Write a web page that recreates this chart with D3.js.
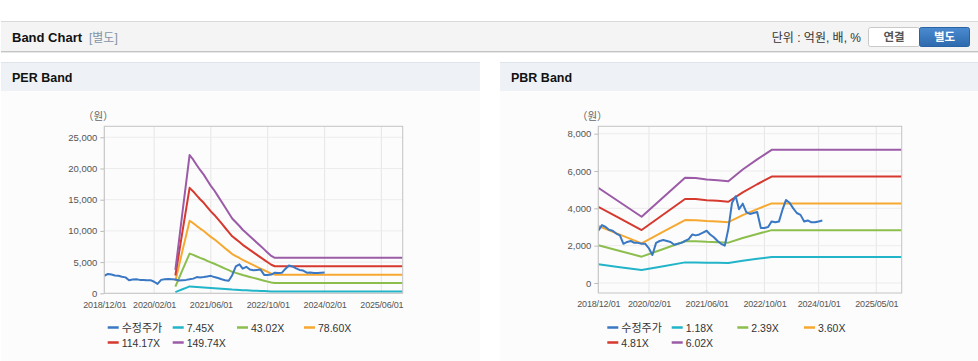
<!DOCTYPE html>
<html><head><meta charset="utf-8">
<script src="https://cdn.jsdelivr.net/npm/d3@7"></script>
<style>
body{margin:0;background:#fff;}
svg text{font-family:Arial,"Liberation Sans","Noto Sans CJK KR",sans-serif;}
</style></head><body>
<svg id="c" width="978" height="361"></svg>
<script>
// ---------- DATA ----------
const priceDates = ["2018-12","2019-01","2019-02","2019-03","2019-04","2019-05","2019-06","2019-07","2019-08","2019-09","2019-10","2019-11",
"2019-12","2020-01","2020-02","2020-03","2020-04","2020-05","2020-06","2020-07","2020-08","2020-09","2020-10","2020-11",
"2020-12","2021-01","2021-02","2021-03","2021-04","2021-05","2021-06","2021-07","2021-08","2021-09","2021-10","2021-11",
"2021-12","2022-01","2022-02","2022-03","2022-04","2022-05","2022-06","2022-07","2022-08","2022-09","2022-10","2022-11",
"2022-12","2023-01","2023-02","2023-03","2023-04","2023-05","2023-06","2023-07","2023-08","2023-09","2023-10","2023-11",
"2023-12","2024-01","2024-02"];
const priceValues = [2800,3100,3000,2850,2800,2650,2550,2100,2200,2250,2150,2150,
2100,2100,1850,1500,2150,2250,2300,2250,2200,2050,2100,2150,
2250,2350,2600,2550,2600,2700,2800,2600,2450,2250,2100,2000,
2900,4300,4650,3950,4250,3800,3700,3750,3800,2950,2950,3000,
3300,3250,3300,3900,4450,4300,4000,3750,3650,3300,3350,3250,
3250,3300,3350];

const perBaseDates = ["2020-08","2020-09","2020-10","2020-11","2020-12","2021-01","2021-02","2021-03","2021-04","2021-05","2021-06","2021-07",
"2021-08","2021-09","2021-10","2021-11","2021-12","2022-01","2022-02","2022-03","2022-04","2022-05","2022-06","2022-07",
"2022-08","2022-09","2022-10","2022-11","2022-12","2025-12"];
const perEPS = [25,56,87,118,148,143,137,132,127,121,115,110,
104,98,92,86,80,76,72,68,64.5,61,57.5,54,
50.5,47,43.5,40,38,38];
const perMultiples = [7.45,43.02,78.60,114.17,149.74];
const perLabels = ["수정주가","7.45X","43.02X","78.60X","114.17X","149.74X"];
const perXTicks = ["2018-12-01","2020-02-01","2021-06-01","2022-10-01","2024-02-01","2025-06-01"];
const perYTicks = [0,5000,10000,15000,20000,25000];

const pbrBaseDates = ["2018-12","2019-06","2019-12","2020-06","2020-12","2021-03","2021-06","2021-09","2021-12","2022-04","2022-08","2022-12","2025-12"];
const pbrBPS = [848,719,590,763,936,935,922,915,905,1010,1100,1185,1185];
const pbrMultiples = [1.18,2.39,3.60,4.81,6.02];
const pbrLabels = ["수정주가","1.18X","2.39X","3.60X","4.81X","6.02X"];
const pbrXTicks = ["2018-12-01","2020-02-01","2021-06-01","2022-10-01","2024-01-01","2025-05-01"];
const pbrYTicks = [0,2000,4000,6000,8000];

const xDomain = ["2018-12-01","2025-12-01"];
const colors = ["#3a78c4","#22b4c8","#8cbe4e","#f6a831","#d6392e","#9b5ba7"];

// ---------- DRAW ----------
const pm = d3.timeParse("%Y-%m");
const pd = d3.timeParse("%Y-%m-%d");
const svg = d3.select("#c");

const defs = svg.append("defs");
const g1 = defs.append("linearGradient").attr("id","btn").attr("x1",0).attr("y1",0).attr("x2",0).attr("y2",1);
g1.append("stop").attr("offset","0%").attr("stop-color","#4b8bd0");
g1.append("stop").attr("offset","100%").attr("stop-color","#2d69ad");

// top header
svg.append("rect").attr("x",1).attr("y",21).attr("width",977).attr("height",31).attr("fill","#f4f4f4");
svg.append("line").attr("x1",1).attr("x2",978).attr("y1",21.5).attr("y2",21.5).attr("stroke","#d9d9d9");
svg.append("line").attr("x1",1).attr("x2",978).attr("y1",51.5).attr("y2",51.5).attr("stroke","#c4c4c4");
svg.append("line").attr("x1",1).attr("x2",978).attr("y1",52.5).attr("y2",52.5).attr("stroke","#e8e8e8");
svg.append("text").attr("x",12).attr("y",41.5).attr("font-size","13px").attr("font-weight","bold").attr("fill","#111").text("Band Chart");
svg.append("text").attr("x",89).attr("y",41.5).attr("font-size","12px").attr("fill","#8393a6").text("[별도]");
svg.append("text").attr("x",861).attr("y",41.5).attr("text-anchor","end").attr("font-size","12px").attr("fill","#333").text("단위 : 억원, 배, %");
svg.append("rect").attr("x",868.5).attr("y",27.5).attr("width",51).attr("height",19).attr("rx",2).attr("fill","#fff").attr("stroke","#c9c9c9");
svg.append("text").attr("x",894).attr("y",41).attr("text-anchor","middle").attr("font-size","11.5px").attr("font-weight","bold").attr("fill","#555").text("연결");
svg.append("rect").attr("x",919.5).attr("y",27.5).attr("width",50).attr("height",19).attr("rx",2).attr("fill","url(#btn)").attr("stroke","#2a63a3");
svg.append("text").attr("x",944.5).attr("y",41).attr("text-anchor","middle").attr("font-size","11.5px").attr("font-weight","bold").attr("fill","#fff").text("별도");

function drawChart(cfg){
  const {panelX, panelW, title, px0, px1, py0, py1, yDomain, yTicks, xTicks, baseDates, base, mults, labels, legX, legCols} = cfg;
  // panel
  svg.append("rect").attr("x",panelX).attr("y",91).attr("width",panelW).attr("height",270).attr("fill","#fcfcfc");
  svg.append("rect").attr("x",panelX).attr("y",62).attr("width",panelW).attr("height",29).attr("fill","#eef2f7");
  svg.append("line").attr("x1",panelX).attr("x2",panelX+panelW).attr("y1",62.5).attr("y2",62.5).attr("stroke","#dfe4ea");
  svg.append("text").attr("x",panelX+11).attr("y",81.5).attr("font-size","12.5px").attr("font-weight","bold").attr("fill","#111").text(title);

  const x = d3.scaleTime().domain(xDomain.map(pd)).range([px0,px1]);
  const y = d3.scaleLinear().domain(yDomain).range([py1,py0]);
  const g = svg.append("g");

  // grid
  g.selectAll(".vg").data(xTicks.map(pd)).join("line")
    .attr("x1",d=>x(d)).attr("x2",d=>x(d)).attr("y1",py0).attr("y2",py1).attr("stroke","#e6e6e6");
  g.selectAll(".hg").data(yTicks).join("line")
    .attr("x1",px0).attr("x2",px1).attr("y1",d=>y(d)).attr("y2",d=>y(d)).attr("stroke","#ececec");

  // axes
  const ya = g.append("g").attr("transform",`translate(${px0},0)`)
    .call(d3.axisLeft(y).tickValues(yTicks).tickFormat(d3.format(",")).tickSize(4).tickPadding(3));
  ya.select(".domain").remove();
  ya.selectAll("line").attr("stroke","#bbb");
  ya.selectAll("text").attr("font-size","9.5px").attr("fill","#555").style("font-family","Arial,'Liberation Sans',sans-serif");
  const xa = g.append("g").attr("transform",`translate(0,${py1})`)
    .call(d3.axisBottom(x).tickValues(xTicks.map(pd)).tickFormat(d3.timeFormat("%Y/%m/%d")).tickSize(0).tickPadding(8));
  xa.select(".domain").remove();
  xa.selectAll("text").attr("font-size","9px").attr("letter-spacing","-0.2px").attr("fill","#555").style("font-family","Arial,'Liberation Sans',sans-serif");

  svg.append("text").attr("x",px0-6).attr("y",py0-6).attr("text-anchor","middle").attr("font-size","10.5px").attr("fill","#666").text("（원）");

  // clip
  const cid = "clip"+title.replace(/\s/g,"");
  defs.append("clipPath").attr("id",cid).append("rect").attr("x",px0).attr("y",py0).attr("width",px1-px0).attr("height",py1-py0);
  const lg = svg.append("g").attr("clip-path",`url(#${cid})`);
  const line = d3.line().x(d=>x(d.date)).y(d=>y(d.v));

  mults.forEach((m,i)=>{
    const data = baseDates.map((d,j)=>({date:pm(d), v:base[j]*m}));
    lg.append("path").datum(data).attr("d",line).attr("fill","none").attr("stroke",colors[i+1]).attr("stroke-width",2).attr("stroke-linejoin","round");
  });
  const pdata = priceDates.map((d,j)=>({date:pm(d), v:priceValues[j]}));
  lg.append("path").datum(pdata).attr("d",line).attr("fill","none").attr("stroke",colors[0]).attr("stroke-width",2).attr("stroke-linejoin","round");

  // frame
  svg.append("rect").attr("x",px0).attr("y",py0).attr("width",px1-px0).attr("height",py1-py0)
    .attr("fill","none").attr("stroke","#c4c4c4");

  // legend
  labels.forEach((t,i)=>{
    const row = Math.floor(i/4), col = i%4;
    const lx = legX + legCols[col], ly = 327.5 + row*15;
    svg.append("line").attr("x1",lx).attr("x2",lx+11).attr("y1",ly).attr("y2",ly).attr("stroke",colors[i]).attr("stroke-width",2.5);
    svg.append("text").attr("x",lx+14).attr("y",ly+4).attr("font-size", i===0?"11px":"10.5px").attr("fill","#333").text(t);
  });
}

drawChart({panelX:1, panelW:479, title:"PER Band", px0:104.3, px1:402.7, py0:126.3, py1:293.3,
  yDomain:[0,26760], yTicks:perYTicks, xTicks:perXTicks, baseDates:perBaseDates, base:perEPS, mults:perMultiples,
  labels:perLabels, legX:107.7, legCols:[0,65,129.3,196.3]});
drawChart({panelX:500, panelW:478, title:"PBR Band", px0:598.3, px1:901.7, py0:126.3, py1:293,
  yDomain:[-536,8396], yTicks:pbrYTicks, xTicks:pbrXTicks, baseDates:pbrBaseDates, base:pbrBPS, mults:pbrMultiples,
  labels:pbrLabels, legX:607.3, legCols:[0,64.4,130,196.7]});
</script>
</body></html>
